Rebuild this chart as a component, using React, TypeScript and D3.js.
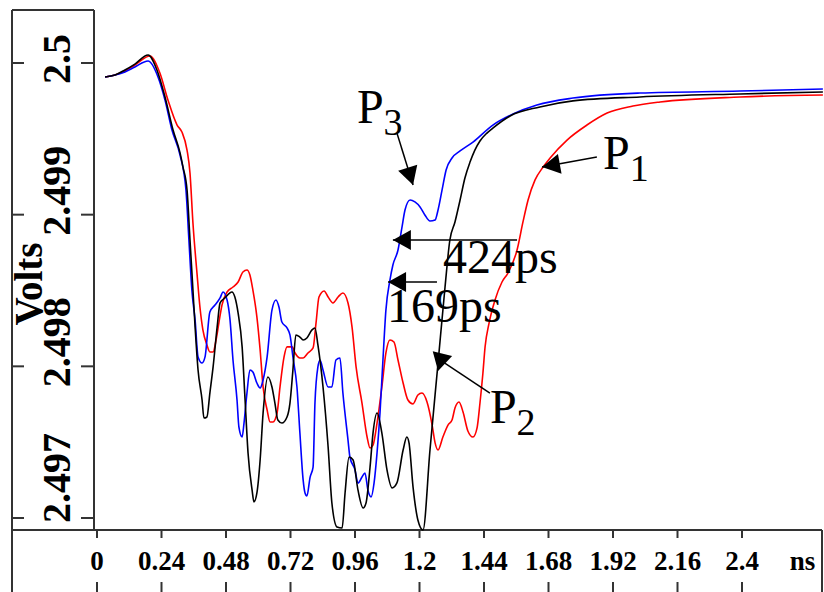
import React from "react";
import * as d3 from "d3";

// time (ns), volts
const p1Points: [number, number][] = [
  [0.03, 2.499908], [0.067, 2.499921], [0.104, 2.499947], [0.141, 2.499987], [0.197, 2.500046],
  [0.234, 2.499934], [0.264, 2.499756], [0.298, 2.499591], [0.316, 2.499545], [0.335, 2.499426],
  [0.346, 2.499275], [0.357, 2.498945], [0.372, 2.498615], [0.383, 2.498391], [0.394, 2.49824],
  [0.409, 2.498141], [0.42, 2.498095], [0.432, 2.498095], [0.443, 2.498174], [0.454, 2.498292],
  [0.465, 2.498404], [0.484, 2.49849], [0.506, 2.498523], [0.525, 2.498556], [0.543, 2.498622],
  [0.558, 2.498635], [0.569, 2.498602], [0.58, 2.498503], [0.595, 2.498325], [0.607, 2.498108],
  [0.618, 2.497864], [0.633, 2.497712], [0.644, 2.497633], [0.655, 2.497633], [0.67, 2.497692],
  [0.681, 2.497864], [0.696, 2.498062], [0.707, 2.498128], [0.726, 2.498128], [0.737, 2.498088],
  [0.755, 2.498055], [0.767, 2.498055], [0.785, 2.498088], [0.804, 2.498121], [0.815, 2.498286],
  [0.826, 2.498457], [0.845, 2.498497], [0.86, 2.498457], [0.878, 2.498418], [0.897, 2.498457],
  [0.915, 2.498484], [0.934, 2.498418], [0.949, 2.498259], [0.964, 2.497996], [0.986, 2.497758],
  [1.005, 2.497534], [1.016, 2.497462], [1.027, 2.497481], [1.042, 2.497626], [1.06, 2.497864],
  [1.075, 2.498088], [1.09, 2.498174], [1.105, 2.49816], [1.12, 2.498042], [1.139, 2.49789],
  [1.157, 2.497778], [1.176, 2.497752], [1.194, 2.497811], [1.209, 2.497824], [1.228, 2.497765],
  [1.247, 2.497613], [1.258, 2.497495], [1.269, 2.497448], [1.287, 2.497534], [1.306, 2.497613],
  [1.321, 2.497646], [1.332, 2.497725], [1.347, 2.497765], [1.362, 2.497699], [1.38, 2.497574],
  [1.399, 2.497534], [1.414, 2.497593], [1.425, 2.497758], [1.436, 2.497956], [1.444, 2.498128],
  [1.459, 2.498286], [1.481, 2.498437], [1.507, 2.498556], [1.529, 2.498615], [1.563, 2.498767],
  [1.585, 2.498952], [1.604, 2.499097], [1.63, 2.499229], [1.66, 2.499314], [1.686, 2.499374],
  [1.749, 2.499492], [1.823, 2.499591], [1.898, 2.49967], [1.994, 2.499716], [2.095, 2.499743],
  [2.393, 2.499776], [2.701, 2.499789],
];

const p2Points: [number, number][] = [
  [0.03, 2.499908], [0.067, 2.499921], [0.104, 2.499954], [0.141, 2.499993], [0.19, 2.500053],
  [0.223, 2.499954], [0.253, 2.499776], [0.283, 2.499558], [0.309, 2.499407], [0.32, 2.499314],
  [0.335, 2.499163], [0.346, 2.498833], [0.357, 2.498503], [0.365, 2.498259], [0.376, 2.497976],
  [0.391, 2.497778], [0.398, 2.497659], [0.409, 2.497666], [0.42, 2.497824], [0.432, 2.497996],
  [0.447, 2.498259], [0.458, 2.498418], [0.476, 2.498451], [0.502, 2.49849], [0.513, 2.498457],
  [0.525, 2.498352], [0.54, 2.498128], [0.551, 2.497778], [0.562, 2.497429], [0.577, 2.497185],
  [0.584, 2.497106], [0.595, 2.497165], [0.607, 2.497382], [0.618, 2.497692], [0.636, 2.49793],
  [0.651, 2.497864], [0.662, 2.497758], [0.673, 2.497646], [0.688, 2.497626], [0.707, 2.497666],
  [0.718, 2.497758], [0.729, 2.497976], [0.74, 2.498207], [0.755, 2.498193], [0.767, 2.498174],
  [0.781, 2.498187], [0.8, 2.49824], [0.811, 2.498253], [0.822, 2.498141], [0.841, 2.497864],
  [0.86, 2.497468], [0.874, 2.497099], [0.893, 2.496941], [0.912, 2.496934], [0.923, 2.497165],
  [0.938, 2.497402], [0.953, 2.497382], [0.971, 2.497185], [0.99, 2.497066], [1.001, 2.497099],
  [1.016, 2.497336], [1.027, 2.49756], [1.042, 2.497692], [1.06, 2.49756], [1.079, 2.497317],
  [1.098, 2.497198], [1.116, 2.497231], [1.139, 2.497448], [1.153, 2.497534], [1.161, 2.497495],
  [1.176, 2.497204], [1.194, 2.496987], [1.213, 2.496921], [1.239, 2.497448], [1.269, 2.498022],
  [1.295, 2.498523], [1.313, 2.498833], [1.332, 2.498952], [1.351, 2.499097], [1.369, 2.499242],
  [1.388, 2.499347], [1.406, 2.499426], [1.425, 2.499486], [1.451, 2.499538], [1.473, 2.499571],
  [1.537, 2.499651], [1.648, 2.49971], [1.771, 2.49975], [2.02, 2.499776], [2.393, 2.499796],
  [2.701, 2.499809],
];

const p3Points: [number, number][] = [
  [0.03, 2.499908], [0.067, 2.499921], [0.104, 2.499941], [0.141, 2.499974], [0.19, 2.500013],
  [0.227, 2.499908], [0.253, 2.499756], [0.279, 2.499558], [0.309, 2.499393], [0.331, 2.499163],
  [0.342, 2.498833], [0.353, 2.498503], [0.365, 2.498306], [0.376, 2.498062], [0.391, 2.498022],
  [0.402, 2.498062], [0.42, 2.498358], [0.439, 2.498404], [0.458, 2.498451], [0.469, 2.49849],
  [0.484, 2.498437], [0.495, 2.498306], [0.506, 2.498042], [0.521, 2.497778], [0.528, 2.4976],
  [0.54, 2.497534], [0.547, 2.497626], [0.558, 2.497824], [0.569, 2.497976], [0.58, 2.497963],
  [0.595, 2.49789], [0.607, 2.497857], [0.618, 2.49791], [0.633, 2.498062], [0.651, 2.498371],
  [0.666, 2.498437], [0.677, 2.498391], [0.688, 2.498292], [0.707, 2.498253], [0.718, 2.498207],
  [0.729, 2.498062], [0.744, 2.497864], [0.755, 2.49756], [0.767, 2.497251], [0.774, 2.497165],
  [0.781, 2.497145], [0.793, 2.49727], [0.804, 2.497336], [0.811, 2.497758], [0.822, 2.497996],
  [0.83, 2.498042], [0.841, 2.497976], [0.86, 2.497864], [0.874, 2.497864], [0.889, 2.498042],
  [0.904, 2.498055], [0.915, 2.497824], [0.934, 2.497514], [0.941, 2.497402], [0.96, 2.497317],
  [0.971, 2.497231], [0.986, 2.49727], [0.997, 2.497297], [1.008, 2.497185], [1.02, 2.497139],
  [1.031, 2.497231], [1.042, 2.497429], [1.053, 2.497692], [1.064, 2.498042], [1.075, 2.498371],
  [1.09, 2.498569], [1.101, 2.498668], [1.12, 2.498767], [1.135, 2.498919], [1.146, 2.499031],
  [1.165, 2.499097], [1.183, 2.499084], [1.202, 2.499051], [1.22, 2.498998], [1.239, 2.498958],
  [1.258, 2.498965], [1.269, 2.499031], [1.284, 2.499163], [1.299, 2.499295], [1.321, 2.499374],
  [1.351, 2.49942], [1.399, 2.499479], [1.473, 2.499591], [1.548, 2.499664], [1.637, 2.499723],
  [1.771, 2.499769], [2.02, 2.499802], [2.393, 2.499815], [2.701, 2.499829],
];

const xTicks = [0, 0.24, 0.48, 0.72, 0.96, 1.2, 1.44, 1.68, 1.92, 2.16, 2.4];
const xTickLabels = ["0", "0.24", "0.48", "0.72", "0.96", "1.2", "1.44", "1.68", "1.92", "2.16", "2.4"];
const yTicks = [2.5, 2.499, 2.498, 2.497];
const yTickLabels = ["2.5", "2.499", "2.498", "2.497"];

// annotation arrows in data units: from, tip, optional head direction origin
const arrows = [
  { from: [1.116, 2.499538], tip: [1.176, 2.499196] },
  { from: [1.563, 2.498833], tip: [1.101, 2.498833] },
  { from: [1.265, 2.498556], tip: [1.083, 2.498556] },
  { from: [1.462, 2.497824], to: [1.287, 2.498029], tip: [1.269, 2.497969], head: [1.284, 2.498075] },
  { from: [1.86, 2.49938], tip: [1.656, 2.499314] },
];
const labels = [
  { text: "424ps", sub: "", at: [1.287, 2.498615] },
  { text: "169ps", sub: "", at: [1.079, 2.498292] },
  { text: "P", sub: "3", at: [0.967, 2.499604] },
  { text: "P", sub: "1", at: [1.883, 2.499301] },
  { text: "P", sub: "2", at: [1.462, 2.497626] },
];

const W = 824;
const H = 592;
const FRAME = { left: 12, top: 10, yBoxRight: 94, axisY: 530, right: 822 };

export default function App() {
  const x = d3.scaleLinear().domain([0, 2.4]).range([97, 742]);
  const y = d3.scaleLinear().domain([2.497, 2.5]).range([518, 63]);
  const line = d3
    .line<[number, number]>()
    .x((d) => x(d[0]))
    .y((d) => y(d[1]))
    .curve(d3.curveMonotoneX);

  const frameColor = "#333";
  const serif = "'Liberation Serif', 'Times New Roman', serif";

  const arrowHead = (a: any) => {
    const tx = x(a.tip[0]);
    const ty = y(a.tip[1]);
    const o = a.head ?? a.from;
    let dx = tx - x(o[0]);
    let dy = ty - y(o[1]);
    const len = Math.hypot(dx, dy);
    dx /= len;
    dy /= len;
    const L = 18;
    const hw = 10;
    const bx = tx - dx * L;
    const by = ty - dy * L;
    return `${tx},${ty} ${bx - dy * hw},${by + dx * hw} ${bx + dy * hw},${by - dx * hw}`;
  };

  return (
    <svg
      width={W}
      height={H}
      style={{ position: "absolute", left: 0, top: 0, display: "block", background: "#fff" }}
    >
      {/* frame */}
      <g stroke={frameColor} strokeWidth={2} fill="none">
        <line x1={FRAME.left} y1={FRAME.top} x2={FRAME.left} y2={H} />
        <line x1={FRAME.left} y1={FRAME.top} x2={FRAME.yBoxRight} y2={FRAME.top} />
        <line x1={FRAME.yBoxRight} y1={FRAME.top} x2={FRAME.yBoxRight} y2={FRAME.axisY} />
        <line x1={FRAME.left} y1={FRAME.axisY} x2={FRAME.right} y2={FRAME.axisY} />
        <line x1={FRAME.right} y1={FRAME.axisY} x2={FRAME.right} y2={H} />
      </g>

      {/* y ticks */}
      {yTicks.map((v, i) => (
        <g key={`y${i}`}>
          <line x1={FRAME.left} x2={FRAME.left + 12} y1={y(v)} y2={y(v)} stroke={frameColor} strokeWidth={2} />
          <line x1={FRAME.yBoxRight - 13} x2={FRAME.yBoxRight} y1={y(v)} y2={y(v)} stroke={frameColor} strokeWidth={2} />
          <text
            transform={`translate(70, ${Math.min(y(v) + 21, FRAME.axisY - 7)}) rotate(-90)`}
            fontFamily={serif}
            fontWeight="bold"
            fontSize={40}
            textAnchor="start"
          >
            {yTickLabels[i]}
          </text>
        </g>
      ))}
      <text
        transform="translate(42, 284) rotate(-90)"
        fontFamily={serif}
        fontWeight="bold"
        fontSize={39}
        textAnchor="middle"
      >
        Volts
      </text>

      {/* x ticks */}
      {xTicks.map((t, i) => (
        <g key={`x${i}`}>
          <line x1={x(t)} x2={x(t)} y1={FRAME.axisY} y2={FRAME.axisY + 8} stroke={frameColor} strokeWidth={2} />
          <line x1={x(t)} x2={x(t)} y1={582} y2={H} stroke={frameColor} strokeWidth={2} />
          <text x={x(t)} y={570} fontFamily={serif} fontWeight="bold" fontSize={27} textAnchor="middle">
            {xTickLabels[i]}
          </text>
        </g>
      ))}
      <text x={x(2.625)} y={570} fontFamily={serif} fontWeight="bold" fontSize={27} textAnchor="middle">
        ns
      </text>

      {/* curves */}
      <path d={line(p1Points) ?? ""} fill="none" stroke="#ff0000" strokeWidth={1.6} />
      <path d={line(p3Points) ?? ""} fill="none" stroke="#0000ff" strokeWidth={1.6} />
      <path d={line(p2Points) ?? ""} fill="none" stroke="#000000" strokeWidth={1.6} />

      {/* annotations */}
      {arrows.map((a, i) => {
        const end = a.to ?? a.tip;
        return (
          <g key={`a${i}`}>
            <line
              x1={x(a.from[0])}
              y1={y(a.from[1])}
              x2={x(end[0])}
              y2={y(end[1])}
              stroke="#000"
              strokeWidth={1.5}
            />
            <polygon points={arrowHead(a)} fill="#000" />
          </g>
        );
      })}
      {labels.map((l, i) => (
        <text key={`l${i}`} x={x(l.at[0])} y={y(l.at[1])} fontFamily={serif} fontSize={48}>
          {l.text}
          {l.sub && (
            <tspan fontSize={38} dy={12}>
              {l.sub}
            </tspan>
          )}
        </text>
      ))}
    </svg>
  );
}
